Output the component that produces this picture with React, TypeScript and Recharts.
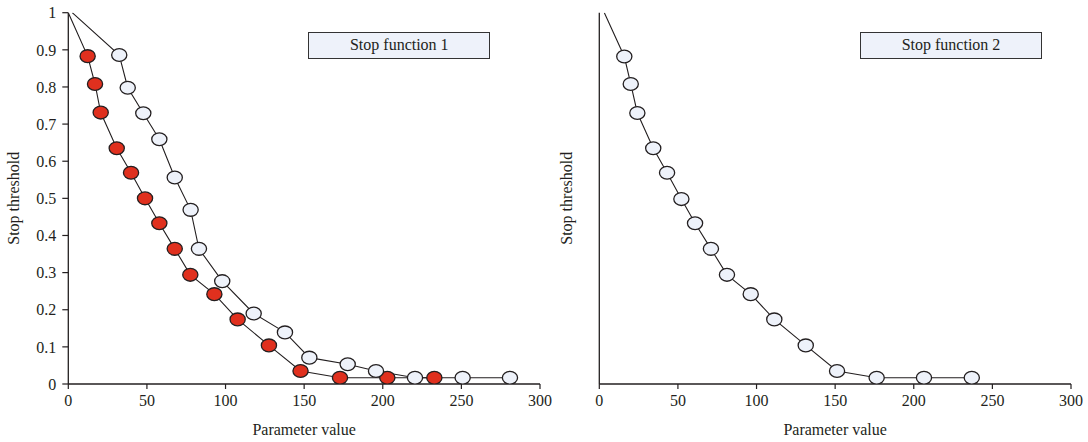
import React from 'react';
import { LineChart, Line, XAxis, YAxis, Legend } from 'recharts';

// ---- data ----
const paramTicks = [0, 50, 100, 150, 200, 250, 300];
const thresholdTicks = [0, 0.1, 0.2, 0.3, 0.4, 0.5, 0.6, 0.7, 0.8, 0.9, 1];

// Stop function 1 – filled (red) series
const f1FilledParam = [0, 12.3, 17.0, 20.6, 30.8, 39.9, 48.8, 57.9, 67.7, 77.6, 92.9, 107.7, 127.6, 147.7, 172.8, 202.9, 232.8];
const f1FilledThreshold = [1, 0.883, 0.808, 0.731, 0.635, 0.569, 0.5, 0.433, 0.364, 0.294, 0.242, 0.174, 0.104, 0.035, 0.017, 0.017, 0.017];

// Stop function 1 – open series
const f1OpenParam = [2.5, 32.4, 37.8, 47.7, 57.9, 67.7, 77.8, 83.1, 97.9, 117.9, 137.8, 153.3, 177.7, 195.7, 220.5, 250.8, 280.9];
const f1OpenThreshold = [1, 0.886, 0.798, 0.729, 0.659, 0.556, 0.469, 0.364, 0.277, 0.19, 0.139, 0.071, 0.053, 0.035, 0.017, 0.017, 0.017];

// Stop function 2
const f2Param = [3.2, 15.9, 20.0, 24.2, 34.3, 43.1, 52.2, 60.9, 71.0, 81.2, 96.3, 111.3, 131.3, 151.2, 176.4, 206.5, 236.9];
const f2Threshold = [1, 0.882, 0.808, 0.73, 0.635, 0.569, 0.498, 0.433, 0.364, 0.294, 0.242, 0.174, 0.104, 0.035, 0.017, 0.017, 0.017];

const legend1 = 'Stop function 1';
const legend2 = 'Stop function 2';
const xTitle = 'Parameter value';
const yTitle = 'Stop threshold';

// ---- styling ----
const FONT = '"Liberation Serif", "DejaVu Serif", serif';
const FS = 16;
const INK = '#231f20';
const RED = '#e0301e';
const PALE = '#eef2fa';

const toPoints = (xs: number[], ys: number[]) => xs.map((x, i) => ({ param: x, threshold: ys[i] }));

const makeDot = (fill: string) => (props: any) => {
  const { cx, cy, index } = props;
  if (index === 0 || cx == null || cy == null) return <g key={`d-${index}`} />;
  return (
    <ellipse key={`d-${index}`} cx={cx} cy={cy} rx={7.6} ry={6.4} fill={fill} stroke={INK} strokeWidth={1.3} />
  );
};

type Series = { points: { param: number; threshold: number }[]; fill: string };

type PanelProps = {
  left: number;
  width: number;
  marginLeft: number;
  marginRight: number;
  showYTicks: boolean;
  series: Series[];
  legendText: string;
  legendLeft: number;
  yLabelX: number;
};

function Panel(p: PanelProps) {
  const tickStyle = { fill: INK, fontSize: FS, fontFamily: FONT };
  return (
    <div style={{ position: 'absolute', left: p.left, top: 0 }}>
      <LineChart
        width={p.width}
        height={442}
        margin={{ top: 12.7, right: p.marginRight, bottom: 28, left: p.marginLeft }}
      >
        <XAxis
          type="number"
          dataKey="param"
          domain={[0, 300]}
          ticks={paramTicks}
          interval={0}
          allowDataOverflow
          height={30}
          axisLine={{ stroke: INK, strokeWidth: 1.3 }}
          tickLine={{ stroke: INK, strokeWidth: 1.2 }}
          tickSize={5}
          tickMargin={6}
          tick={tickStyle}
          label={(lp: any) => {
            const vb = lp.viewBox || {};
            return (
              <text
                x={vb.x + vb.width / 2}
                y={435}
                textAnchor="middle"
                fill={INK}
                fontSize={FS}
                fontFamily={FONT}
              >
                {xTitle}
              </text>
            );
          }}
        />
        <XAxis
          xAxisId="top"
          orientation="top"
          type="number"
          domain={[0, 300]}
          height={0}
          tick={false}
          tickLine={false}
          axisLine={{ stroke: INK, strokeWidth: 1.2 }}
        />
        <YAxis
          type="number"
          domain={[0, 1]}
          ticks={thresholdTicks}
          interval={0}
          allowDataOverflow
          width={40}
          axisLine={{ stroke: INK, strokeWidth: 1.3 }}
          tickLine={p.showYTicks ? { stroke: INK, strokeWidth: 1.2 } : false}
          tickSize={6}
          tickMargin={6}
          tick={p.showYTicks ? tickStyle : false}
          label={() => (
            <text
              x={p.yLabelX}
              y={198.3}
              transform={`rotate(-90 ${p.yLabelX} 198.3)`}
              textAnchor="middle"
              fill={INK}
              fontSize={FS}
              fontFamily={FONT}
            >
              {yTitle}
            </text>
          )}
        />
        <YAxis
          yAxisId="right"
          orientation="right"
          type="number"
          domain={[0, 1]}
          width={0}
          tick={false}
          tickLine={false}
          axisLine={{ stroke: INK, strokeWidth: 1.2 }}
        />
        {p.series.map((s, i) => (
          <Line
            key={`m-${i}`}
            data={s.points}
            dataKey="threshold"
            type="linear"
            stroke="none"
            dot={makeDot(s.fill)}
            activeDot={false}
            legendType="none"
            isAnimationActive={false}
          />
        ))}
        {p.series.map((s, i) => (
          <Line
            key={`l-${i}`}
            data={s.points}
            dataKey="threshold"
            type="linear"
            stroke={INK}
            strokeWidth={1.1}
            dot={false}
            activeDot={false}
            legendType="none"
            isAnimationActive={false}
          />
        ))}
        <Legend
          layout="vertical"
          align="center"
          verticalAlign="middle"
          wrapperStyle={{ left: p.legendLeft, top: 31.7, width: 182, height: 27 }}
          content={() => (
            <div
              style={{
                boxSizing: 'border-box',
                width: 182,
                height: 27,
                background: PALE,
                border: '1.3px solid #333',
                fontFamily: FONT,
                fontSize: FS,
                color: INK,
                display: 'flex',
                alignItems: 'center',
                justifyContent: 'center',
              }}
            >
              {p.legendText}
            </div>
          )}
        />
      </LineChart>
    </div>
  );
}

export default function App() {
  const left: Series[] = [
    { points: toPoints(f1FilledParam, f1FilledThreshold), fill: RED },
    { points: toPoints(f1OpenParam, f1OpenThreshold), fill: PALE },
  ];
  const right: Series[] = [{ points: toPoints(f2Param, f2Threshold), fill: PALE }];
  return (
    <div
      style={{
        position: 'absolute',
        left: 0,
        top: 0,
        width: 1088,
        height: 442,
        background: '#fff',
        overflow: 'hidden',
        fontFamily: FONT,
      }}
    >
      <Panel
        left={0}
        width={560}
        marginLeft={28.3}
        marginRight={20}
        showYTicks
        series={left}
        legendText={legend1}
        legendLeft={308.3}
        yLabelX={19}
      />
      <Panel
        left={540}
        width={548}
        marginLeft={19.3}
        marginRight={17}
        showYTicks={false}
        series={right}
        legendText={legend2}
        legendLeft={320}
        yLabelX={32}
      />
    </div>
  );
}
